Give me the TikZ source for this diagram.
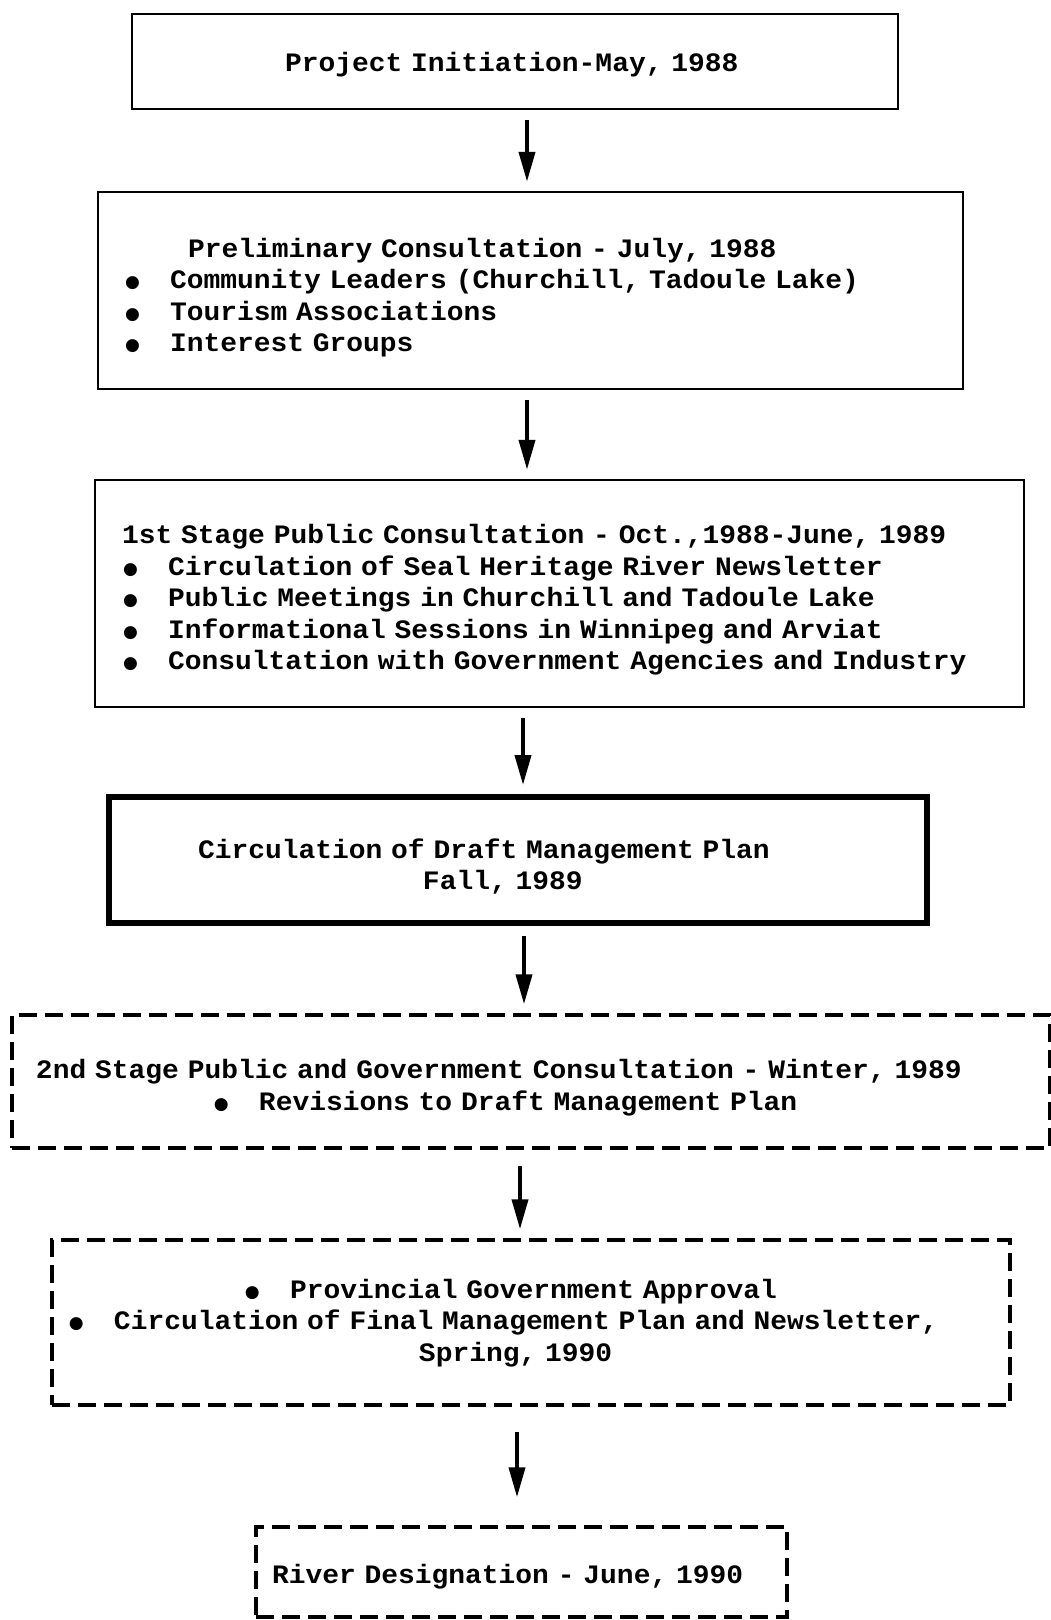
\documentclass[tikz,border=0pt]{standalone}
\usepackage{fontspec}
\usetikzlibrary{arrows.meta}
\newfontfamily\typefont{Liberation Mono}[FakeStretch=1.05]
\newfontfamily\dotfont{DejaVu Sans}
\newcommand{\boxfont}{\typefont\bfseries\fontsize{26.6}{31.5}\selectfont}
\newcommand{\itm}{\makebox[45pt][l]{\raisebox{1pt}{\dotfont\fontsize{17}{17}\selectfont ●}}}
\newcommand{\ind}[1]{\hspace*{#1pt}}
\newcommand{\up}[1]{\rule{0pt}{#1pt}}
\newcommand{\dn}{\rule[-8pt]{0pt}{0pt}}

\begin{document}
\begin{tikzpicture}[
    x=1pt, y=-1pt,
    every node/.style={font=\boxfont, align=left, inner xsep=0pt, inner ysep=0pt},
    box/.style={draw, line width=2.5pt},
    thickbox/.style={draw, line width=6pt},
    dashbox/.style={draw, line width=3.5pt, dash pattern=on 18pt off 8pt},
    arrow/.style={-{Triangle[length=30pt,width=16pt]}, line width=4pt, shorten <=10pt, shorten >=9pt}
]
\useasboundingbox (0,0) rectangle (1051,1620);

% Nodes
\node (initiation) [box, text width=766pt, minimum height=95pt] at (515,61.5)
    {\ind{153}\up{28}Project Initiation-May, 1988\dn};
\node (preliminary) [box, text width=865pt, minimum height=197pt] at (530.5,290.5)
    {\ind{90}\up{36}Preliminary Consultation - July, 1988\\
     \ind{27}\itm Community Leaders (Churchill, Tadoule Lake)\\
     \ind{27}\itm Tourism Associations\\
     \ind{27}\itm Interest Groups\dn};
\node (firststage) [box, text width=929pt, minimum height=227pt] at (559.5,593.5)
    {\ind{27}\up{34}1st Stage Public Consultation - Oct.,1988-June, 1989\\
     \ind{28}\itm Circulation of Seal Heritage River Newsletter\\
     \ind{28}\itm Public Meetings in Churchill and Tadoule Lake\\
     \ind{28}\itm Informational Sessions in Winnipeg and Arviat\\
     \ind{28}\itm Consultation with Government Agencies and Industry\dn};
\node (draft) [thickbox, text width=818pt, minimum height=126pt] at (518,860)
    {\ind{89}\up{36}Circulation of Draft Management Plan\\
     \ind{314}Fall, 1989\dn};
\node (secondstage) [dashbox, text width=1038pt, minimum height=133pt] at (531,1081.5)
    {\ind{24}\up{34}2nd Stage Public and Government Consultation - Winter, 1989\\
     \ind{202}\itm Revisions to Draft Management Plan\dn};
\node (approval) [dashbox, text width=958pt, minimum height=165pt] at (531,1322.5)
    {\ind{193}\up{22}\itm Provincial Government Approval\\
     \ind{17}\itm Circulation of Final Management Plan and Newsletter,\\
     \ind{367}Spring, 1990\dn};
\node (designation) [dashbox, text width=531pt, minimum height=90pt] at (521.5,1572)
    {\ind{16}\up{30}River Designation - June, 1990\dn};

% Arrows
\draw[arrow] ([xshift=12pt]initiation.south) -- ([xshift=12pt]initiation.south |- preliminary.north);
\draw[arrow] ([xshift=-3.5pt]preliminary.south) -- ([xshift=-3.5pt]preliminary.south |- firststage.north);
\draw[arrow] ([xshift=-36.5pt]firststage.south) -- ([xshift=-36.5pt]firststage.south |- draft.north);
\draw[arrow] ([xshift=6pt]draft.south) -- ([xshift=6pt]draft.south |- secondstage.north);
\draw[arrow, shorten <=16pt] ([xshift=-11pt]secondstage.south) -- ([xshift=-11pt]secondstage.south |- approval.north);
\draw[arrow, shorten <=25pt, shorten >=28pt] ([xshift=-14pt]approval.south) -- ([xshift=-14pt]approval.south |- designation.north);

\end{tikzpicture}
\end{document}
